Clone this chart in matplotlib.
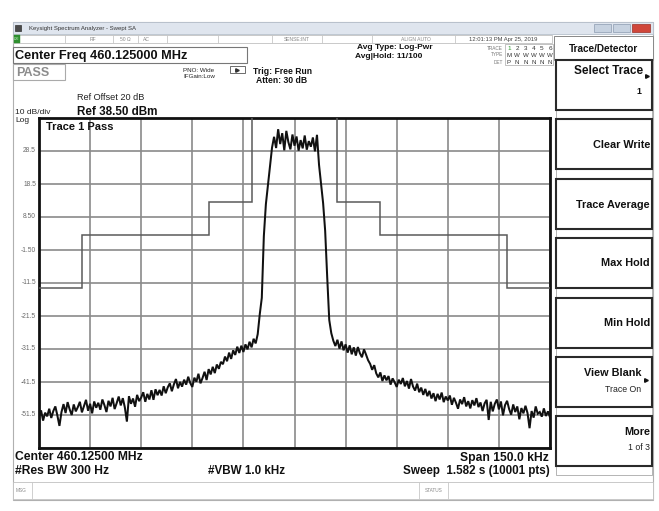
import numpy as np
import matplotlib
matplotlib.use("Agg")
import matplotlib.pyplot as plt
from matplotlib.patches import Rectangle

plt.rcParams['font.family'] = ['Liberation Sans', 'DejaVu Sans']

W, H = 659, 511

# ---------------- data ----------------
center_mhz = "460.12500"
span_khz = 150.0
ref_level_db = 38.5
db_per_div = 10
sweep_start_khz, sweep_stop_khz = -75.0, 75.0

trace_db = [
    -52.0, -50.1, -53.2, -50.8, -51.9, -49.6, -52.4, -50.3, -48.9, -51.7,
    -54.8, -50.6, -48.2, -50.9, -47.6, -49.8, -51.5, -48.3, -50.4, -49.1,
    -47.5, -50.7, -48.8, -46.9, -50.2, -48.1, -51.0, -47.4, -49.3, -47.8,
    -49.9, -46.8, -48.5, -50.6, -47.2, -48.9, -46.3, -49.7, -47.9, -45.9,
    -48.6, -46.4, -49.2, -53.5, -45.8, -48.1, -46.5, -49.0, -45.4, -47.3,
    -46.2, -44.6, -47.5, -45.1, -46.8, -44.0, -46.9, -43.7, -45.5, -43.9,
    -45.6, -42.8, -44.9, -43.1, -41.9, -44.3, -42.2, -40.6, -43.4, -41.5,
    -42.9, -40.8, -42.3, -39.9, -41.8, -43.0, -40.2, -41.4, -39.0, -41.9,
    -40.3, -38.4, -40.9, -37.6, -39.2, -36.9, -38.8, -36.2, -37.5, -35.4,
    -36.1, -33.8, -35.2, -32.6, -34.5, -31.9, -33.3, -30.8, -32.7, -30.5,
    -32.4, -30.1, -31.6, -29.3, -31.0, -28.4, -29.8, -27.0, -21.0, -16.0,
    2.7, 12.4, 18.2, 24.0, 29.5, 32.8, 29.4, 35.1, 30.6, 33.9,
    28.7, 34.6, 31.2, 29.0, 33.5, 30.1, 32.9, 28.6, 31.8, 29.3,
    33.2, 28.9, 31.5, 29.8, 32.6, 28.4, 33.4, 24.3, 18.5, 12.7,
    4.3, -9.7, -22.7, -26.7, -29.0, -30.6, -28.7, -31.4, -29.2, -31.9,
    -30.1, -32.6, -30.4, -33.1, -31.0, -33.5, -30.9, -32.8, -34.0, -31.6,
    -33.2, -34.9, -36.0, -37.8, -36.4, -38.9, -40.1, -38.6, -41.2, -39.5,
    -41.0, -39.7, -42.3, -40.4, -41.6, -43.0, -40.8, -42.1, -40.3, -42.8,
    -41.2, -43.5, -40.6, -42.9, -44.1, -42.0, -44.6, -43.2, -45.4, -43.6,
    -45.8, -44.2, -46.5, -44.9, -47.3, -45.1, -46.8, -44.7, -47.6, -45.9,
    -47.1, -45.6, -48.4, -46.3, -47.8, -49.6, -46.8, -48.2, -46.1, -48.9,
    -47.3, -49.5, -47.0, -48.6, -46.4, -49.1, -47.7, -50.3, -48.0, -46.9,
    -53.0, -47.5, -50.4, -48.1, -46.8, -49.8, -47.4, -51.6, -48.5, -47.2,
    -49.7, -51.4, -48.3, -50.6, -48.9, -52.8, -49.4, -51.0, -48.7, -50.9,
    -55.5, -50.3, -52.3, -48.9, -51.1, -50.6, -52.0, -49.5, -51.8, -50.4,
    -52.2,
]

limit_edges_khz = [-75, -62.5, -25, -12.5, 12.5, 25, 62.5, 75]
limit_levels_db = [-13, 3, 13, 45, 13, 3, -13]

ytick_labels = ["28.5", "18.5", "8.50", "-1.50", "-11.5", "-21.5", "-31.5", "-41.5", "-51.5"]

softkeys = [("Select Trace", "1"), ("Clear Write", ""), ("Trace Average", ""),
            ("Max Hold", ""), ("Min Hold", ""), ("View Blank", "Trace On"),
            ("More", "1 of 3")]

# ---------------- figure ----------------
fig = plt.figure(figsize=(W / 100, H / 100), dpi=100)
fig.patch.set_facecolor('white')
bg = fig.add_axes([0, 0, 1, 1])
bg.set_xlim(0, W)
bg.set_ylim(H, 0)
bg.axis('off')


def T(x, y, s, size=6, weight='normal', ha='left', color='#111111', va='center'):
    bg.text(x, y, s, fontsize=size, fontweight=weight, ha=ha, va=va, color=color)


def R(x0, y0, x1, y1, fc='none', ec='#888888', lw=0.8, z=1):
    bg.add_patch(Rectangle((x0, y0), x1 - x0, y1 - y0, facecolor=fc, edgecolor=ec, lw=lw, zorder=z))


# window frame
R(13, 22.5, 653, 500, fc='white', ec='#b0b0b0', lw=0.8, z=0)
# title bar
R(13, 22.5, 653, 34, fc='#dfe5ee', ec='#b7c0cc', lw=0.6)
R(15, 25, 21, 31, fc='#4a4a4a', ec='#333333', lw=0.5, z=2)
T(29, 28.5, "Keysight Spectrum Analyzer - Swept SA", size=4.3, color='#333333')
R(594, 24.5, 611, 32, fc='#c7d2e0', ec='#8d9bb0', lw=0.5, z=2)
R(613, 24.5, 630, 32, fc='#c7d2e0', ec='#8d9bb0', lw=0.5, z=2)
R(632, 24.5, 650, 32, fc='#d0463a', ec='#9a2f27', lw=0.5, z=2)

# status row
R(13, 35, 552, 43.5, fc='white', ec='#c0c0c0', lw=0.6)
R(13.5, 35.5, 20, 43, fc='#2f8f2f', ec='#2f8f2f', lw=0.3, z=2)
T(16.7, 39.3, "LXI", size=2.6, ha='center', color='#d8ffd8')
for sx in [65, 113, 138, 167, 218, 272, 322, 372, 455]:
    bg.plot([sx, sx], [35, 43.5], color='#c8c8c8', lw=0.6)
T(93, 39.3, "RF", size=3.6, ha='center', color='#888888')
T(125, 39.3, "50 Ω", size=3.6, ha='center', color='#888888')
T(146, 39.3, "AC", size=3.6, ha='center', color='#888888')
T(297, 39.3, "SENSE:INT", size=3.6, ha='center', color='#888888')
T(416, 39.3, "ALIGN AUTO", size=3.6, ha='center', color='#888888')
T(503, 39.3, "12:01:13 PM Apr 25, 2019", size=4.2, ha='center', color='#444444')

# header info
R(13, 47, 247, 63, fc='white', ec='#777777', lw=0.8)
T(15, 55.5, "Center Freq 460.125000 MHz", size=9.2, weight='bold')
R(13, 64, 65, 80, fc='white', ec='#aaaaaa', lw=0.8)
T(16, 72.5, "PASS", size=9, weight='bold', color='#8c8c8c')
T(183, 70.5, "PNO: Wide", size=4.5, color='#222222')
T(183, 77, "IFGain:Low", size=4.5, color='#222222')
bg.add_patch(Rectangle((230, 66), 15, 7, facecolor='white', edgecolor='#555555', lw=0.6))
bg.plot([236.5], [70.5], marker='>', ms=2.5, color='#333333')
T(253, 71, "Trig: Free Run", size=6.2, weight='bold')
T(256, 80.5, "Atten: 30 dB", size=6.2, weight='bold')
T(357, 47.5, "Avg Type: Log-Pwr", size=6.0, weight='bold')
T(355, 56.0, "Avg|Hold: 11/100", size=6.0, weight='bold')

# trace table
T(503, 48, "TRACE", size=3.4, ha='right', color='#777777')
T(503, 55, "TYPE", size=3.4, ha='right', color='#777777')
T(503, 62, "DET", size=3.4, ha='right', color='#777777')
R(505, 44.5, 553, 65, fc='white', ec='#aaaaaa', lw=0.5)
digits = ["1", "2", "3", "4", "5", "6"]
for k, d in enumerate(digits):
    xx = 509 + k * 8.2
    T(xx, 48.5, d, size=4.6, ha='center', color='#2e9a2e' if k == 0 else '#333333')
    T(xx, 55.5, "M" if k == 0 else "W", size=4.4, ha='center', color='#333333')
    T(xx, 62, "P" if k == 0 else "N", size=4.4, ha='center', color='#333333')

# reference labels
T(77, 98, "Ref Offset 20 dB", size=6.6, color='#222222')
T(15, 112.5, "10 dB/div", size=6.0, color='#222222')
T(15, 120.0, "Log", size=6.0, color='#222222')
T(77, 112, "Ref 38.50 dBm", size=8.4, weight='bold')

# y labels
for k, lab in enumerate(ytick_labels):
    T(36, 118 + 33 * (k + 1), lab, size=4.8, ha='right', color='#6a6a6a')

# bottom annotations
T(15, 457.5, "Center " + center_mhz + " MHz", size=8.7, weight='bold')
T(15, 471, "#Res BW 300 Hz", size=8.7, weight='bold')
T(208, 471, "#VBW 1.0 kHz", size=8.4, weight='bold')
T(549, 457.5, "Span %.1f kHz" % span_khz, size=8.7, weight='bold', ha='right')
T(550, 471, "Sweep  1.582 s (10001 pts)", size=8.4, weight='bold', ha='right')

# bottom status row
R(13, 482, 653, 499.5, fc='white', ec='#c0c0c0', lw=0.6)
for sx in [32, 419, 448]:
    bg.plot([sx, sx], [482, 499.5], color='#c8c8c8', lw=0.6)
T(16, 490.5, "MSG", size=3.4, color='#888888')
T(433.5, 490.5, "STATUS", size=3.4, ha='center', color='#888888')

# softkey panel
R(554, 36, 653, 60, fc='white', ec='#888888', lw=0.7)
T(603.5, 48.5, "Trace/Detector", size=7.2, weight='bold', ha='center')
tops = [60, 119, 179, 238, 298, 357, 416]
for (main, sub), top in zip(softkeys, tops):
    R(556, top + 50, 652, top + 59, fc='white', ec='#a8a8a8', lw=0.6)
    R(556, top, 652, top + 50, fc='white', ec='#2a2a2a', lw=1.5, z=2)
    has_arrow = main in ("Select Trace", "View Blank")
    if main == "Select Trace":
        T(643, top + 11.5, main, size=8.5, weight='bold', ha='right')
        bg.plot([646.5], [top + 16], marker='>', ms=2.6, color='#111111', zorder=3)
        T(641, top + 31, sub, size=6.4, weight='bold', ha='right')
    elif sub:
        rx = 641.5 if has_arrow else 650
        T(rx, top + 16, main, size=7.8, weight='bold', ha='right')
        if has_arrow:
            bg.plot([645.5], [top + 23], marker='>', ms=2.6, color='#111111', zorder=3)
        T(rx, top + 32, sub, size=6.3, ha='right', color='#222222')
    else:
        T(650, top + 25.5, main, size=7.8, weight='bold', ha='right')

# ---------------- spectrum plot ----------------
x0, y0, x1, y1 = 39, 118, 550, 448
ax = fig.add_axes([x0 / W, 1 - y1 / H, (x1 - x0) / W, (y1 - y0) / H])
ax.set_facecolor('white')
ax.set_xlim(sweep_start_khz, sweep_stop_khz)
ax.set_ylim(ref_level_db - 10 * db_per_div, ref_level_db)
ax.set_xticks(np.linspace(sweep_start_khz, sweep_stop_khz, 11))
ax.set_yticks(ref_level_db - db_per_div * np.arange(11))
ax.grid(True, color='#8a8a8a', lw=1.2)
ax.tick_params(length=0, labelbottom=False, labelleft=False)
for sp in ax.spines.values():
    sp.set_linewidth(2.0)
    sp.set_color('#111111')

ax.stairs(limit_levels_db, limit_edges_khz, baseline=None, color='#5a5a5a', lw=1.1, zorder=3)

freq_khz = np.linspace(sweep_start_khz, sweep_stop_khz, len(trace_db))
ax.plot(freq_khz, trace_db, color='#111111', lw=1.45, zorder=4, solid_joinstyle='miter')

ax.text(0.014, 0.972, "Trace 1 Pass", transform=ax.transAxes, fontsize=8, fontweight='bold',
        ha='left', va='center', color='#111111', zorder=5)

fig.savefig("out.png", dpi=100)
